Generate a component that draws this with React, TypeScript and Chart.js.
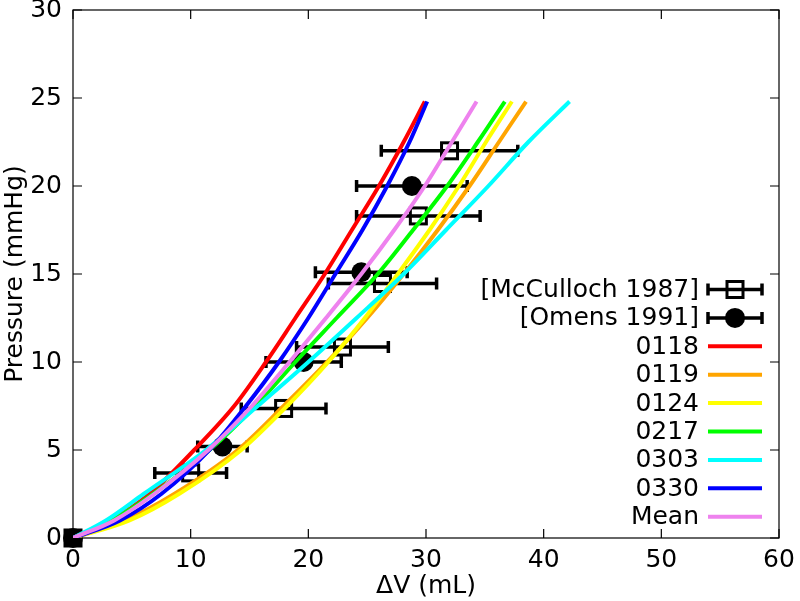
import React, { useEffect, useRef } from "react";
import { Chart, registerables } from "chart.js";

Chart.register(...registerables);

const FONT_FAMILY = "'DejaVu Sans', 'Liberation Sans', sans-serif";
const FONT_SIZE = 25;

// Axis ticks
const xTickValues = [0, 10, 20, 30, 40, 50, 60];
const yTickValues = [0, 5, 10, 15, 20, 25, 30];

// Experimental data: McCulloch 1987 (open squares) with horizontal error bars
const mccullochVolume = [0, 10.0, 17.9, 22.9, 26.3, 29.35, 32.0];
const mccullochPressure = [0, 3.7, 7.36, 10.85, 14.46, 18.3, 22.0];
const mccullochVolumeErr = [0, 3.05, 3.6, 3.9, 4.6, 5.25, 5.8];

// Experimental data: Omens 1991 (filled circles) with horizontal error bars
const omensVolume = [0, 12.7, 19.6, 24.5, 28.8];
const omensPressure = [0, 5.2, 10.0, 15.1, 20.0];
const omensVolumeErr = [0, 2.1, 3.2, 3.9, 4.7];

// Model curves: pressure levels and corresponding volumes
const curvePressure = [0, 1, 2.5, 5, 7.5, 10, 12.5, 15, 17.5, 20, 22.5, 24.8];
const volume0118 = [0, 3.2, 6.5, 10.3, 13.7, 16.4, 18.9, 21.4, 23.7, 26.0, 28.1, 29.9];
const volume0119 = [0, 4.4, 8.6, 14.0, 17.9, 21.6, 25.0, 28.1, 31.0, 33.7, 36.2, 38.5];
const volume0124 = [0, 4.8, 9.0, 14.3, 18.2, 21.7, 24.8, 27.6, 30.3, 32.8, 35.1, 37.3];
const volume0217 = [0, 3.3, 6.8, 11.6, 15.5, 18.9, 22.4, 25.9, 28.9, 31.8, 34.4, 36.7];
const volume0303 = [0, 2.8, 6.0, 11.3, 15.7, 20.0, 24.1, 28.1, 31.7, 35.3, 38.7, 42.2];
const volume0330 = [0, 4.0, 7.5, 11.6, 14.7, 17.5, 20.0, 22.3, 24.6, 26.7, 28.6, 30.1];
const volumeMean = [0, 3.5, 6.9, 11.5, 15.2, 18.4, 21.5, 24.5, 27.3, 29.9, 32.2, 34.3];

const curveLabels = ["0118", "0119", "0124", "0217", "0303", "0330", "Mean"];
const curveColors = ["#ff0000", "#ffa500", "#ffff00", "#00ff00", "#00ffff", "#0000ff", "#ee82ee"];
const curveVolumes = [volume0118, volume0119, volume0124, volume0217, volume0303, volume0330, volumeMean];

const toPoints = (xs: number[], ys: number[]) => xs.map((x, i) => ({ x, y: ys[i] }));

const TICK_LEN = 9;
const CAP_HALF = 6;
const BAR_WIDTH = 3.5;

function drawErrorBar(ctx: CanvasRenderingContext2D, x1: number, x2: number, y: number) {
  ctx.beginPath();
  ctx.moveTo(x1, y);
  ctx.lineTo(x2, y);
  ctx.moveTo(x1, y - CAP_HALF);
  ctx.lineTo(x1, y + CAP_HALF);
  ctx.moveTo(x2, y - CAP_HALF);
  ctx.lineTo(x2, y + CAP_HALF);
  ctx.stroke();
}

function drawMarker(ctx: CanvasRenderingContext2D, style: string, x: number, y: number) {
  if (style === "rect") {
    ctx.lineWidth = 3;
    ctx.strokeRect(x - 8, y - 8, 16, 16);
  } else {
    ctx.beginPath();
    ctx.arc(x, y, 10, 0, Math.PI * 2);
    ctx.fill();
  }
}

const framePlugin = {
  id: "frameTicks",
  beforeDatasetsDraw(chart: any) {
    const { ctx, chartArea: a, scales } = chart;
    ctx.save();
    ctx.strokeStyle = "#000";
    ctx.lineWidth = 1.2;
    ctx.strokeRect(a.left, a.top, a.right - a.left, a.bottom - a.top);
    ctx.beginPath();
    xTickValues.forEach((v) => {
      const px = scales.x.getPixelForValue(v);
      ctx.moveTo(px, a.bottom);
      ctx.lineTo(px, a.bottom - TICK_LEN);
      ctx.moveTo(px, a.top);
      ctx.lineTo(px, a.top + TICK_LEN);
    });
    yTickValues.forEach((v) => {
      const py = scales.y.getPixelForValue(v);
      ctx.moveTo(a.left, py);
      ctx.lineTo(a.left + TICK_LEN, py);
      ctx.moveTo(a.right, py);
      ctx.lineTo(a.right - TICK_LEN, py);
    });
    ctx.stroke();

    // error bars and markers (drawn below the model curves)
    ctx.strokeStyle = "#000";
    ctx.fillStyle = "#000";
    chart.data.datasets.forEach((ds: any) => {
      if (!ds.errorX) return;
      ds.data.forEach((p: any, j: number) => {
        const e = ds.errorX[j];
        const x1 = scales.x.getPixelForValue(p.x - e);
        const x2 = scales.x.getPixelForValue(p.x + e);
        const y = scales.y.getPixelForValue(p.y);
        ctx.lineWidth = BAR_WIDTH;
        drawErrorBar(ctx, x1, x2, y);
        drawMarker(ctx, ds.markerStyle, scales.x.getPixelForValue(p.x), y);
      });
    });
    ctx.restore();
  },
};

const LEGEND_TEXT_RIGHT = 699;
const LEGEND_SAMPLE_LEFT = 708;
const LEGEND_SAMPLE_RIGHT = 762;
const LEGEND_TOP = 289.5;
const LEGEND_STEP = 28.4;

const legendPlugin = {
  id: "customLegend",
  afterDraw(chart: any) {
    const { ctx } = chart;
    ctx.save();
    ctx.font = `${FONT_SIZE}px ${FONT_FAMILY}`;
    ctx.textAlign = "right";
    ctx.textBaseline = "middle";
    chart.data.datasets.forEach((ds: any, i: number) => {
      const y = LEGEND_TOP + i * LEGEND_STEP;
      ctx.fillStyle = "#000";
      ctx.fillText(ds.label, LEGEND_TEXT_RIGHT, y + 1);
      if (ds.errorX) {
        ctx.strokeStyle = "#000";
        ctx.fillStyle = "#000";
        ctx.lineWidth = BAR_WIDTH;
        drawErrorBar(ctx, LEGEND_SAMPLE_LEFT, LEGEND_SAMPLE_RIGHT, y);
        drawMarker(ctx, ds.markerStyle, (LEGEND_SAMPLE_LEFT + LEGEND_SAMPLE_RIGHT) / 2, y);
      } else {
        ctx.strokeStyle = ds.borderColor;
        ctx.lineWidth = 4;
        ctx.beginPath();
        ctx.moveTo(LEGEND_SAMPLE_LEFT, y);
        ctx.lineTo(LEGEND_SAMPLE_RIGHT, y);
        ctx.stroke();
      }
    });
    ctx.restore();
  },
};

export default function App() {
  const ref = useRef<HTMLCanvasElement>(null);

  useEffect(() => {
    const canvas = ref.current;
    if (!canvas) return;

    const datasets: any[] = [
      {
        label: "[McCulloch 1987]",
        data: toPoints(mccullochVolume, mccullochPressure),
        errorX: mccullochVolumeErr,
        markerStyle: "rect",
        showLine: false,
        pointRadius: 0,
        order: 20,
      },
      {
        label: "[Omens 1991]",
        data: toPoints(omensVolume, omensPressure),
        errorX: omensVolumeErr,
        markerStyle: "circle",
        showLine: false,
        pointRadius: 0,
        order: 20,
      },
      ...curveLabels.map((label, i) => ({
        label,
        data: toPoints(curveVolumes[i], curvePressure),
        showLine: true,
        borderColor: curveColors[i],
        backgroundColor: curveColors[i],
        borderWidth: 4,
        pointRadius: 0,
        cubicInterpolationMode: "monotone",
        fill: false,
        order: curveLabels.length - i,
      })),
    ];

    const tickFont = { family: FONT_FAMILY, size: FONT_SIZE };

    const chart = new Chart(canvas, {
      type: "scatter",
      data: { datasets },
      plugins: [framePlugin, legendPlugin],
      options: {
        responsive: false,
        animation: false,
        devicePixelRatio: 1,
        layout: { padding: { top: 10, right: 21, left: 0, bottom: 0 } },
        plugins: {
          legend: { display: false },
          tooltip: { enabled: false },
        },
        scales: {
          x: {
            type: "linear",
            min: 0,
            max: 60,
            afterFit: (s: any) => {
              s.height = 63;
              s.paddingLeft = 0;
              s.paddingRight = 0;
            },
            afterBuildTicks: (s: any) => {
              s.ticks = xTickValues.map((v) => ({ value: v }));
            },
            ticks: { font: tickFont, color: "#000", padding: 7, maxRotation: 0 },
            grid: { display: false, drawTicks: false },
            border: { display: false },
            title: {
              display: true,
              text: "ΔV (mL)",
              font: tickFont,
              color: "#000",
              padding: { top: 0, bottom: 0 },
            },
          },
          y: {
            type: "linear",
            min: 0,
            max: 30,
            afterFit: (s: any) => {
              s.width = 73;
              s.paddingTop = 0;
              s.paddingBottom = 0;
            },
            afterBuildTicks: (s: any) => {
              s.ticks = yTickValues.map((v) => ({ value: v }));
            },
            ticks: { font: tickFont, color: "#000", padding: 11 },
            grid: { display: false, drawTicks: false },
            border: { display: false },
            title: {
              display: true,
              text: "Pressure (mmHg)",
              font: tickFont,
              color: "#000",
              padding: { top: 0, bottom: 0 },
            },
          },
        },
      } as any,
    });

    return () => chart.destroy();
  }, []);

  return (
    <div style={{ position: "fixed", left: 0, top: 0, width: 800, height: 601, background: "#fff" }}>
      <canvas ref={ref} width={800} height={601} style={{ display: "block" }} />
    </div>
  );
}
